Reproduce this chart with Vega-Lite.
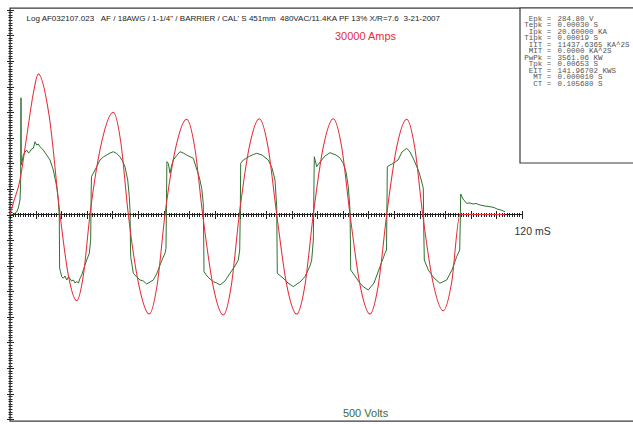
{
  "$schema": "https://vega.github.io/schema/vega-lite/v6.json",
  "width": 624,
  "height": 413,
  "autosize": {"type": "none"},
  "padding": {"left": 10, "top": 8, "right": 0, "bottom": 3},
  "background": "white",
  "config": {
    "font": "Liberation Sans",
    "view": {"stroke": "#3a3a3a", "strokeWidth": 1.4},
    "axis": {"labels": false, "grid": false, "domain": false, "tickColor": "#222", "tickWidth": 1, "titleFontWeight": "normal", "titleAngle": 0, "titleAlign": "left", "titleBaseline": "middle"}
  },
  "datasets": {
    "current": [
      {"t":0,"amps":0},{"t":0.77,"amps":1684},{"t":2.34,"amps":5053},{"t":3.91,"amps":11395},{"t":5.46,"amps":17723},{"t":6.63,"amps":20600},{"t":9.18,"amps":14442},{"t":11.72,"amps":0},
      {"t":13.68,"amps":-8920},{"t":15.63,"amps":-12626},{"t":17.19,"amps":-8920},{"t":18.75,"amps":0},
      {"t":21.48,"amps":10590},{"t":24.21,"amps":14969},{"t":25.97,"amps":10590},{"t":27.73,"amps":0},
      {"t":30.19,"amps":-10297},{"t":32.65,"amps":-14574},{"t":34.49,"amps":-10297},{"t":36.33,"amps":0},
      {"t":38.87,"amps":9857},{"t":41.41,"amps":13944},{"t":43.29,"amps":9857},{"t":45.16,"amps":0},
      {"t":47.58,"amps":-10414},{"t":49.99,"amps":-14720},{"t":51.87,"amps":-10414},{"t":53.74,"amps":0},
      {"t":56.09,"amps":9916},{"t":58.43,"amps":14032},{"t":60.47,"amps":9916},{"t":62.51,"amps":0},
      {"t":64.85,"amps":-10297},{"t":67.19,"amps":-14574},{"t":69.14,"amps":-10297},{"t":71.08,"amps":0},
      {"t":73.43,"amps":9916},{"t":75.77,"amps":14032},{"t":77.73,"amps":9916},{"t":79.69,"amps":0},
      {"t":82.03,"amps":-10297},{"t":84.37,"amps":-14574},{"t":86.33,"amps":-10297},{"t":88.29,"amps":0},
      {"t":90.63,"amps":9857},{"t":92.98,"amps":13944},{"t":94.85,"amps":9857},{"t":96.73,"amps":0},
      {"t":99.14,"amps":-9960},{"t":101.55,"amps":-14090},{"t":103.51,"amps":-9960},{"t":105.47,"amps":0},
      {"t":116.01,"amps":0}
    ],
    "voltage": [
      {"t":0,"volts":0},{"t":0.77,"volts":0},{"t":1.57,"volts":6.1},{"t":1.95,"volts":15.9},{"t":2.34,"volts":35.4},{"t":2.48,"volts":72},{"t":2.58,"volts":284.8},{"t":2.65,"volts":120.8},{"t":2.81,"volts":128.2},{"t":3.12,"volts":145.2},{"t":3.52,"volts":152.6},{"t":3.91,"volts":157.4},{"t":4.34,"volts":150.1},{"t":4.69,"volts":153.3},{"t":5.04,"volts":159.9},{"t":5.46,"volts":161.6},{"t":5.86,"volts":177.7},{"t":6.26,"volts":169.6},{"t":6.63,"volts":172.1},{"t":7.03,"volts":165.5},{"t":7.81,"volts":157.4},{"t":8.6,"volts":145.2},{"t":9.38,"volts":133},{"t":10.15,"volts":108.6},{"t":10.95,"volts":67.9},{"t":11.32,"volts":35.4},{"t":11.55,"volts":-5.4},
      {"t":11.63,"volts":-130.6},{"t":11.84,"volts":-139.6},{"t":12.12,"volts":-151.8},{"t":12.49,"volts":-155.7},{"t":12.89,"volts":-150.1},{"t":13.29,"volts":-159.9},{"t":13.71,"volts":-152.6},{"t":14.06,"volts":-155.7},{"t":14.41,"volts":-162.3},{"t":14.84,"volts":-159.9},{"t":15.23,"volts":-167.2},{"t":15.63,"volts":-164},{"t":16.05,"volts":-167.2},{"t":16.41,"volts":-155.7},{"t":16.8,"volts":-147.7},{"t":17.18,"volts":-135.5},{"t":17.58,"volts":-123.3},{"t":17.98,"volts":-111.1},{"t":18.59,"volts":-94.7},{"t":18.91,"volts":-62.2},
      {"t":19.03,"volts":59.8},{"t":19.1,"volts":92.3},{"t":19.52,"volts":100.6},{"t":19.92,"volts":108.6},{"t":20.32,"volts":116.7},{"t":21.09,"volts":133},{"t":21.87,"volts":140.4},{"t":22.66,"volts":145.2},{"t":23.44,"volts":150.1},{"t":24.21,"volts":153.3},{"t":25.01,"volts":148.9},{"t":25.78,"volts":141.1},{"t":26.37,"volts":130.6},{"t":26.95,"volts":116.7},{"t":27.59,"volts":84.2},{"t":27.96,"volts":43.4},{"t":28.13,"volts":11},
      {"t":28.22,"volts":-62.2},{"t":28.29,"volts":-103},{"t":28.9,"volts":-143.5},{"t":29.7,"volts":-152.6},{"t":30.47,"volts":-159.9},{"t":31.24,"volts":-162.3},{"t":32.04,"volts":-169.6},{"t":32.81,"volts":-164.8},{"t":33.59,"volts":-159.9},{"t":34.38,"volts":-145.2},{"t":35.16,"volts":-123.3},{"t":35.74,"volts":-108.6},{"t":36.33,"volts":-94.7},{"t":36.56,"volts":-82.5},
      {"t":36.68,"volts":35.4},{"t":36.77,"volts":128.9},{"t":37.1,"volts":125},{"t":37.5,"volts":100.6},{"t":37.85,"volts":118.4},{"t":38.27,"volts":133},{"t":39.07,"volts":144},{"t":39.84,"volts":153.3},{"t":40.62,"volts":150.1},{"t":41.41,"volts":145.2},{"t":42.19,"volts":141.1},{"t":42.96,"volts":137.2},{"t":43.83,"volts":108.6},{"t":44.41,"volts":89.1},{"t":44.93,"volts":64},{"t":45.3,"volts":27.3},
      {"t":45.4,"volts":-62.2},{"t":45.47,"volts":-139.6},{"t":46.17,"volts":-150.1},{"t":46.88,"volts":-157.4},{"t":47.65,"volts":-164},{"t":48.45,"volts":-167.2},{"t":49.22,"volts":-172.1},{"t":50.39,"volts":-162.3},{"t":51.56,"volts":-143.5},{"t":52.73,"volts":-125.7},{"t":53.51,"volts":-111.1},{"t":53.84,"volts":-86.7},
      {"t":53.98,"volts":11},{"t":54.07,"volts":125},{"t":54.68,"volts":133},{"t":55.48,"volts":137.9},{"t":56.25,"volts":142.8},{"t":57.02,"volts":146.5},{"t":57.82,"volts":149.4},{"t":59.06,"volts":145.2},{"t":60.54,"volts":133},{"t":61.41,"volts":113.5},{"t":62.11,"volts":84.2},{"t":62.51,"volts":19},
      {"t":62.58,"volts":-62.2},{"t":62.65,"volts":-143.5},{"t":63.98,"volts":-155},{"t":65.16,"volts":-167.2},{"t":66.4,"volts":-176.2},{"t":67.97,"volts":-164.8},{"t":69.14,"volts":-151.8},{"t":70.31,"volts":-125.7},{"t":70.71,"volts":-111.1},{"t":71.09,"volts":-62.2},
      {"t":71.25,"volts":84.2},{"t":71.32,"volts":141.1},{"t":71.88,"volts":116.7},{"t":72.66,"volts":128.2},{"t":73.83,"volts":142.8},{"t":75,"volts":150.9},{"t":76.41,"volts":145.2},{"t":77.34,"volts":137.9},{"t":78.12,"volts":125},{"t":78.75,"volts":103.7},{"t":79.29,"volts":67.9},{"t":79.69,"volts":11},
      {"t":79.78,"volts":-62.2},{"t":79.85,"volts":-135.5},{"t":80.86,"volts":-150.1},{"t":81.8,"volts":-164.8},{"t":82.8,"volts":-176.2},{"t":83.98,"volts":-184.3},{"t":85.31,"volts":-167.2},{"t":86.72,"volts":-127.4},{"t":87.89,"volts":-94.7},{"t":88.24,"volts":-86.7},
      {"t":88.36,"volts":35.4},{"t":88.43,"volts":116.7},{"t":89.06,"volts":120.8},{"t":89.83,"volts":125},{"t":90.94,"volts":133},{"t":91.87,"volts":152.6},{"t":92.98,"volts":161.6},{"t":93.75,"volts":152.6},{"t":94.69,"volts":133},{"t":95.69,"volts":108.6},{"t":96.33,"volts":86.7},{"t":96.87,"volts":64},
      {"t":96.98,"volts":-37.8},{"t":97.1,"volts":-111.1},{"t":98.04,"volts":-135.5},{"t":99.37,"volts":-155},{"t":100.78,"volts":-167.9},{"t":102.35,"volts":-159.9},{"t":103.59,"volts":-135.5},{"t":104.69,"volts":-103},{"t":105.4,"volts":-86.7},
      {"t":105.54,"volts":-13.4},{"t":105.63,"volts":50},{"t":106.17,"volts":37.8},{"t":107.04,"volts":27.3},{"t":107.81,"volts":28.1},{"t":108.51,"volts":25.6},{"t":109.22,"volts":26.9},{"t":110.16,"volts":23.2},{"t":111.33,"volts":20.7},{"t":112.5,"volts":19},{"t":113.44,"volts":17.1},{"t":114.14,"volts":13.4},{"t":115.08,"volts":11},{"t":116.01,"volts":6.8}
    ],
    "stats": [
      {"k":0,"name":"Epk =","val":"284.80 V"},
      {"k":1,"name":"Tepk =","val":"0.00030 S"},
      {"k":2,"name":"Ipk =","val":"20.60000 KA"},
      {"k":3,"name":"Tipk =","val":"0.00019 S"},
      {"k":4,"name":"IIT =","val":"11437.6365 KA^2S"},
      {"k":5,"name":"MIT =","val":"0.0000 KA^2S"},
      {"k":6,"name":"PwPk =","val":"3561.06 KW"},
      {"k":7,"name":"Tpk =","val":"0.00653 S"},
      {"k":8,"name":"EIT =","val":"141.96702 KWS"},
      {"k":9,"name":"MT =","val":"0.000010 S"},
      {"k":10,"name":"CT =","val":"0.105680 S"}
    ]
  },
  "resolve": {"scale": {"y": "independent"}, "axis": {"x": "independent", "y": "independent"}},
  "layer": [
    {
      "data": {"values": [{"box": "stats"}]},
      "mark": {"type": "rect", "fill": "white", "stroke": "#3a3a3a", "strokeWidth": 1.2},
      "encoding": {
        "x": {"datum": 119.53, "scale": {"domain": [0, 146.25], "nice": false, "zero": false}, "axis": null},
        "x2": {"datum": 147},
        "y": {"datum": 7547, "scale": {"domain": [-30250, 30250], "nice": false, "zero": false}, "axis": null},
        "y2": {"datum": 30250}
      }
    },
    {
      "data": {"values": [{"line": "time axis"}]},
      "mark": {"type": "rule", "color": "#222", "strokeWidth": 1.2},
      "encoding": {
        "x": {"datum": 0, "scale": {"domain": [0, 146.25], "nice": false, "zero": false},
              "axis": {"orient": "top", "ticks": false, "title": "3-21-2007", "titleX": 393, "titleY": 10, "titleFontSize": 8, "titleColor": "#222"}},
        "x2": {"datum": 120},
        "y": {"datum": 0, "scale": {"domain": [-1, 1], "nice": false}, "axis": null}
      }
    },
    {
      "data": {"name": "voltage"},
      "mark": {"type": "line", "color": "#2f7230", "strokeWidth": 1},
      "encoding": {
        "x": {"field": "t", "type": "quantitative", "scale": {"domain": [0, 146.25], "nice": false, "zero": false},
              "axis": {"orient": "top", "offset": -206.5, "values": {"expr": "sequence(0, 120.3, 0.6)"},
                       "tickSize": {"condition": {"test": "abs(datum.value/6 - round(datum.value/6)) < 0.01", "value": 4}, "value": 2},
                       "title": "Log AF032107.023\u00a0\u00a0\u00a0AF / 18AWG / 1-1/4\" / BARRIER / CAL' S 451mm\u00a0\u00a0480VAC/11.4KA PF 13% X/R=7.6",
                       "titleX": 16, "titleY": -196.5, "titleFontSize": 8, "titleColor": "#222"}},
        "y": {"field": "volts", "type": "quantitative", "scale": {"domain": [-504.2, 504.2], "nice": false},
              "axis": {"orient": "right", "offset": -624, "values": {"expr": "sequence(-500, 500.01, 6.25)"},
                       "tickSize": {"condition": {"test": "abs(datum.value/62.5 - round(datum.value/62.5)) < 0.01", "value": 3.5}, "value": 2},
                       "title": "500 Volts", "titleX": 355, "titleY": 405, "titleAlign": "center", "titleFontSize": 11, "titleColor": "#3a6b35"}}
      }
    },
    {
      "data": {"name": "current"},
      "mark": {"type": "line", "color": "#e62e3a", "strokeWidth": 1.05, "interpolate": "monotone"},
      "encoding": {
        "x": {"field": "t", "type": "quantitative", "scale": {"domain": [0, 146.25], "nice": false, "zero": false},
              "axis": {"orient": "bottom", "offset": -206.5, "values": {"expr": "sequence(0, 120.3, 0.6)"},
                       "tickSize": {"condition": {"test": "abs(datum.value/6 - round(datum.value/6)) < 0.01", "value": 4}, "value": 2},
                       "title": "120 mS", "titleX": 504, "titleY": 16.5, "titleFontSize": 10.5, "titleColor": "#333"}},
        "y": {"field": "amps", "type": "quantitative", "scale": {"domain": [-30250, 30250], "nice": false},
              "axis": {"orient": "left", "values": {"expr": "sequence(-30000, 30001, 375)"},
                       "tickSize": {"condition": {"test": "abs(datum.value/3750 - round(datum.value/3750)) < 0.01", "value": 3.5}, "value": 2},
                       "title": "30000 Amps", "titleX": 355, "titleY": 28.5, "titleAlign": "center", "titleFontSize": 11, "titleColor": "#e62e3a"}}
      }
    },
    {
      "data": {"name": "stats"},
      "mark": {"type": "text", "align": "right", "baseline": "middle", "font": "Liberation Mono", "fontSize": 7.5, "color": "#555"},
      "encoding": {
        "x": {"datum": 126.87, "scale": {"domain": [0, 146.25], "nice": false, "zero": false}, "axis": null},
        "y": {"field": "k", "type": "quantitative", "scale": {"domain": [-1.692, 61.85], "nice": false, "zero": false, "reverse": true}, "axis": null},
        "text": {"field": "name"}
      }
    },
    {
      "data": {"name": "stats"},
      "mark": {"type": "text", "align": "left", "baseline": "middle", "font": "Liberation Mono", "fontSize": 7.5, "color": "#555"},
      "encoding": {
        "x": {"datum": 128.32, "scale": {"domain": [0, 146.25], "nice": false, "zero": false}, "axis": null},
        "y": {"field": "k", "type": "quantitative", "scale": {"domain": [-1.692, 61.85], "nice": false, "zero": false, "reverse": true}, "axis": null},
        "text": {"field": "val"}
      }
    }
  ]
}
